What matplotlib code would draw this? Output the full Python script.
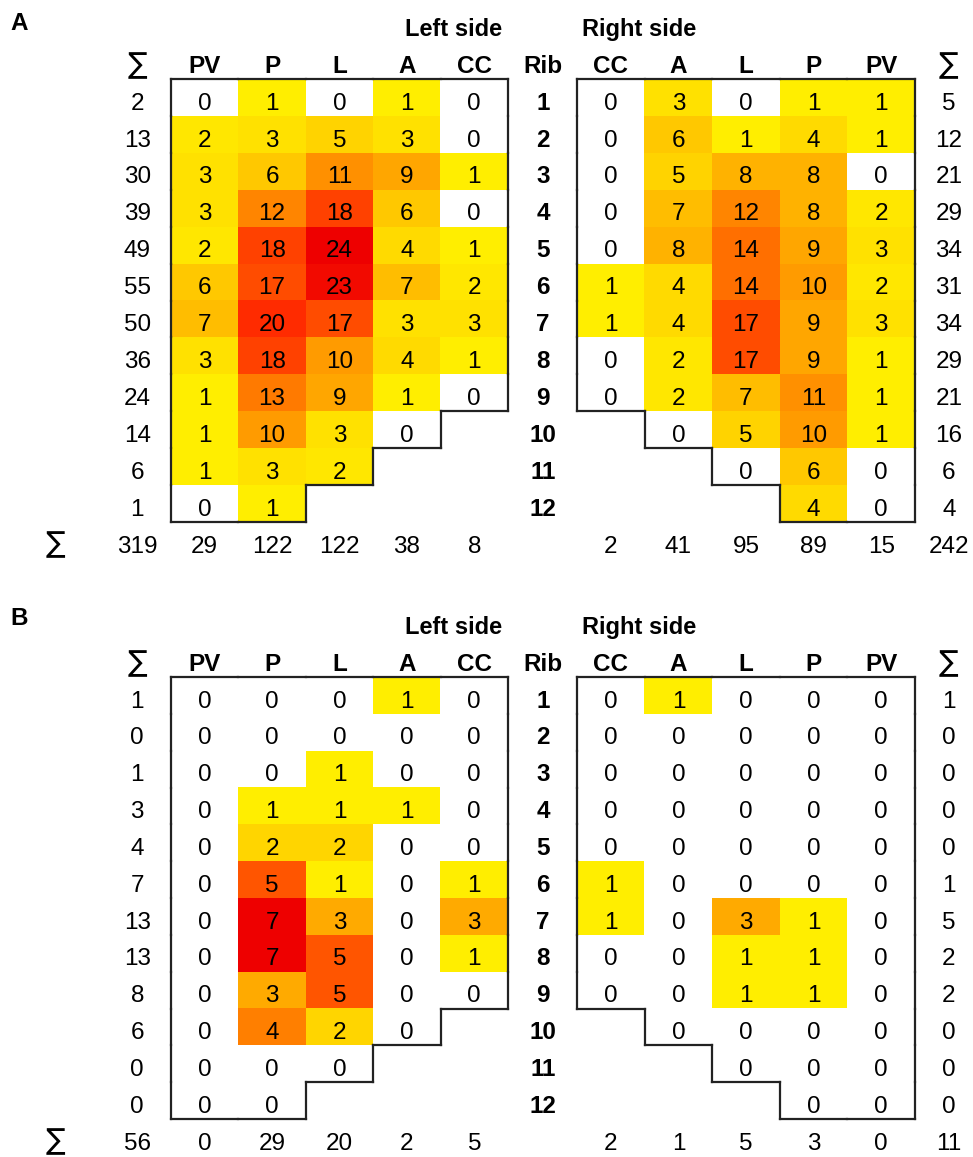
import numpy as np
import matplotlib
matplotlib.use("Agg")
import matplotlib.pyplot as plt
from matplotlib.colors import LinearSegmentedColormap, Normalize
from matplotlib.collections import LineCollection

plt.rcParams['font.family'] = ['Liberation Sans', 'DejaVu Sans']

N = np.nan
ribs = [str(i) for i in range(1, 13)]
left_cols = ["PV", "P", "L", "A", "CC"]
right_cols = ["CC", "A", "L", "P", "PV"]

# panel A, rows = ribs 1..12
a_left = np.array([
    [0, 1, 0, 1, 0],
    [2, 3, 5, 3, 0],
    [3, 6, 11, 9, 1],
    [3, 12, 18, 6, 0],
    [2, 18, 24, 4, 1],
    [6, 17, 23, 7, 2],
    [7, 20, 17, 3, 3],
    [3, 18, 10, 4, 1],
    [1, 13, 9, 1, 0],
    [1, 10, 3, 0, N],
    [1, 3, 2, N, N],
    [0, 1, N, N, N],
])
a_right = np.array([
    [0, 3, 0, 1, 1],
    [0, 6, 1, 4, 1],
    [0, 5, 8, 8, 0],
    [0, 7, 12, 8, 2],
    [0, 8, 14, 9, 3],
    [1, 4, 14, 10, 2],
    [1, 4, 17, 9, 3],
    [0, 2, 17, 9, 1],
    [0, 2, 7, 11, 1],
    [N, 0, 5, 10, 1],
    [N, N, 0, 6, 0],
    [N, N, N, 4, 0],
])

# panel B
b_left = np.array([
    [0, 0, 0, 1, 0],
    [0, 0, 0, 0, 0],
    [0, 0, 1, 0, 0],
    [0, 1, 1, 1, 0],
    [0, 2, 2, 0, 0],
    [0, 5, 1, 0, 1],
    [0, 7, 3, 0, 3],
    [0, 7, 5, 0, 1],
    [0, 3, 5, 0, 0],
    [0, 4, 2, 0, N],
    [0, 0, 0, N, N],
    [0, 0, N, N, N],
])
b_right = np.array([
    [0, 1, 0, 0, 0],
    [0, 0, 0, 0, 0],
    [0, 0, 0, 0, 0],
    [0, 0, 0, 0, 0],
    [0, 0, 0, 0, 0],
    [1, 0, 0, 0, 0],
    [1, 0, 3, 1, 0],
    [0, 0, 1, 1, 0],
    [0, 0, 1, 1, 0],
    [N, 0, 0, 0, 0],
    [N, N, 0, 0, 0],
    [N, N, N, 0, 0],
])

cmap = LinearSegmentedColormap.from_list(
    "heat", ['#FFEE00', '#FFD500', '#FFAA00', '#FF8000', '#FF5500', '#FF2A00', '#EE0000'])
cmap.set_under('white')
cmap.set_bad((1, 1, 1, 0))

W, H = 973, 1157
fig = plt.figure(figsize=(W / 100, H / 100), dpi=100)

FS = 17.5
OFF = 0.33  # baseline offset inside a row
SIGMA = dict(fontsize=21, family=['DejaVu Sans'], ha='center', va='baseline')


def outline(ax, data):
    valid = ~np.isnan(data)
    nr, nc = data.shape
    segs = []
    for r in range(nr):
        for c in range(nc):
            if not valid[r, c]:
                continue
            if r == 0 or not valid[r - 1, c]:
                segs.append([(c - .5, r - .5), (c + .5, r - .5)])
            if r == nr - 1 or not valid[r + 1, c]:
                segs.append([(c - .5, r + .5), (c + .5, r + .5)])
            if c == 0 or not valid[r, c - 1]:
                segs.append([(c - .5, r - .5), (c - .5, r + .5)])
            if c == nc - 1 or not valid[r, c + 1]:
                segs.append([(c + .5, r - .5), (c + .5, r + .5)])
    ax.add_collection(LineCollection(segs, colors='#222222', linewidths=1.6,
                                     capstyle='projecting', clip_on=False, zorder=3))


def grid(rect, data, cols, norm, side):
    ax = fig.add_axes(rect)
    ax.imshow(np.ma.masked_invalid(data), cmap=cmap, norm=norm,
              interpolation='nearest', aspect='auto')
    ax.set_xlim(-0.5, 4.5)
    ax.set_ylim(11.5, -0.5)
    ax.axis('off')
    nr, nc = data.shape
    for r in range(nr):
        for c in range(nc):
            if not np.isnan(data[r, c]):
                ax.text(c, r + OFF, f"{int(data[r, c])}", ha='center', va='baseline',
                        fontsize=FS)
    for c, lab in enumerate(cols):
        ax.text(c, -1 + OFF, lab, ha='center', va='baseline', fontsize=FS,
                fontweight='bold')
        ax.text(c, nr + OFF, f"{int(np.nansum(data[:, c]))}", ha='center',
                va='baseline', fontsize=FS, clip_on=False)
    rsum = np.nansum(data, axis=1)
    total = int(np.nansum(data))
    if side == 'left':
        ax.text(-1.0, -1 + OFF, "∑", **SIGMA)
        for r in range(nr):
            ax.text(-1.0, r + OFF, f"{int(rsum[r])}", ha='center', va='baseline',
                    fontsize=FS)
        ax.text(-1.0, nr + OFF, f"{total}", ha='center', va='baseline', fontsize=FS)
        ax.text(-2.22, nr + OFF, "∑", **SIGMA)
        ax.text(4.42, -2 + OFF, "Left side", ha='right', va='baseline',
                fontsize=FS - 0.5, fontweight='bold')
    else:
        ax.text(-1.0, -1 + OFF, "Rib", ha='center', va='baseline', fontsize=FS,
                fontweight='bold')
        for r in range(nr):
            ax.text(-1.0, r + OFF, ribs[r], ha='center', va='baseline', fontsize=FS,
                    fontweight='bold')
        ax.text(5.0, -1 + OFF, "∑", **SIGMA)
        for r in range(nr):
            ax.text(5.0, r + OFF, f"{int(rsum[r])}", ha='center', va='baseline',
                    fontsize=FS)
        ax.text(5.0, nr + OFF, f"{total}", ha='center', va='baseline', fontsize=FS)
        ax.text(-0.42, -2 + OFF, "Right side", ha='left', va='baseline',
                fontsize=FS - 0.5, fontweight='bold')
    outline(ax, data)
    return ax


def px_rect(x0, y0, x1, y1):
    return [x0 / W, 1 - y1 / H, (x1 - x0) / W, (y1 - y0) / H]


for (l, r, top, bot, label, ly) in [
        (a_left, a_right, 79, 522, "A", 30),
        (b_left, b_right, 677, 1119, "B", 625)]:
    vmax = max(np.nanmax(l), np.nanmax(r))
    norm = Normalize(vmin=0.999, vmax=vmax)
    grid(px_rect(171, top, 508, bot), l, left_cols, norm, 'left')
    grid(px_rect(577, top, 915, bot), r, right_cols, norm, 'right')
    fig.text(10 / W, 1 - ly / H, label, fontsize=FS, fontweight='bold',
             ha='left', va='baseline')

fig.savefig("out.png", dpi=100)
